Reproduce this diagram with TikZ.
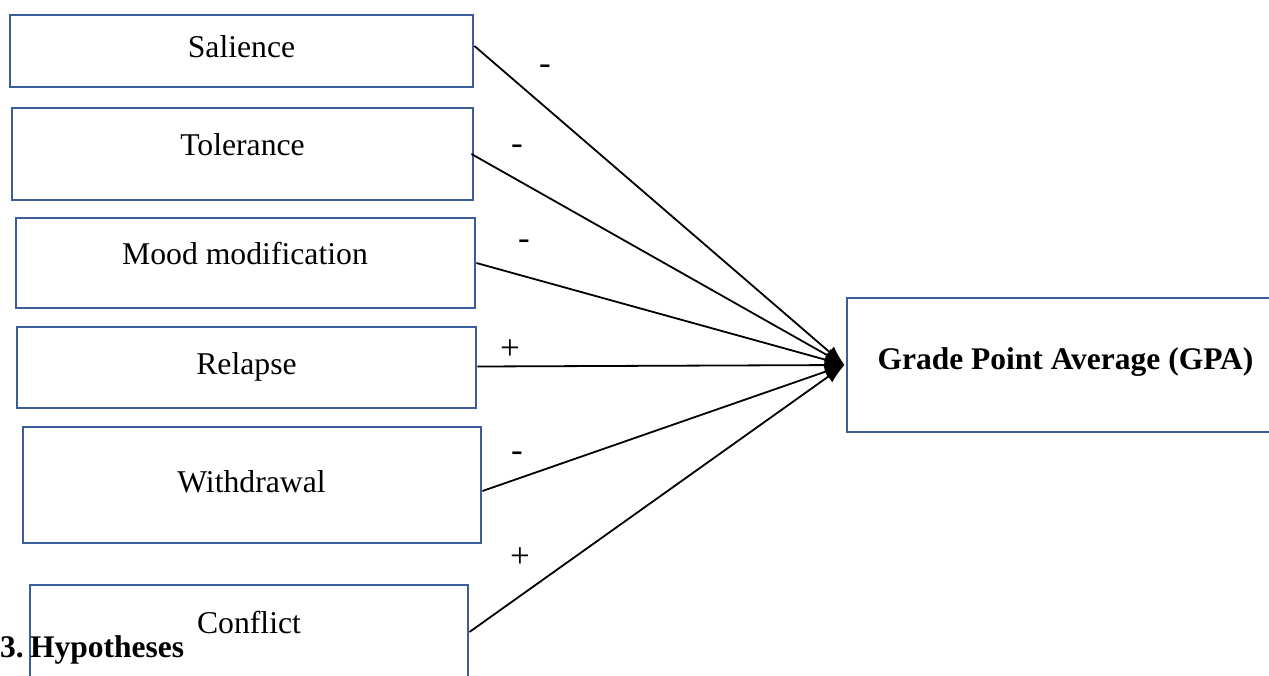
\documentclass[tikz,border=0pt]{standalone}
\usepackage{fontspec}
\setmainfont{Liberation Serif}
\usetikzlibrary{arrows.meta}
\definecolor{boxblue}{RGB}{59,93,155}
\tikzset{
  box/.style={draw=boxblue, line width=2.9pt, minimum width=#1, inner sep=0pt},
  txt/.style={anchor=base, inner sep=0pt, font=\fontsize{31.7}{38}\selectfont},
  btxt/.style={anchor=base, inner sep=0pt, font=\fontsize{31.5}{38}\selectfont\bfseries},
  sign/.style={anchor=base, inner sep=0pt, font=\fontsize{35}{40}\selectfont},
  link/.style={draw=black, line width=1.8pt, -{Latex[length=20pt,width=14pt]}}
}
\begin{document}
\begin{tikzpicture}[x=1pt,y=-1pt]
\clip (0,0) rectangle (1269,675);
\fill[white] (0,0) rectangle (1269,675);
% boxes
\node[box=463pt, minimum height=72pt] (sal) at (241.5,51) {};
\node[box=461pt, minimum height=92pt] (tol) at (242.5,154) {};
\node[box=459pt, minimum height=90pt] (mood) at (245.5,263) {};
\node[box=459pt, minimum height=81pt] (rel) at (246.5,367.5) {};
\node[box=458pt, minimum height=116pt] (wd) at (252,485) {};
\node[box=438pt, minimum height=120pt] (con) at (249,645) {};
\node[box=443pt, minimum height=134pt] (gpa) at (1068.5,365) {};
% texts
\node[txt] (tsal) at (241.5,57) {Salience};
\node[txt] (ttol) at (242.5,155) {Tolerance};
\node[txt] (tmood) at (245,264) {Mood modification};
\node[txt] (trel) at (246.5,374) {Relapse};
\node[txt] (twd) at (251.5,492) {Withdrawal};
\node[txt] (tcon) at (249,633) {Conflict};
\node[btxt] (tgpa) at (1065.5,369) {Grade Point Average (GPA)};
\node[btxt, anchor=base west] (hyp) at (0,657) {3.\hspace{0.2em}Hypotheses};
% signs
\node[sign] (s1) at (545,74) {-};
\node[sign] (s2) at (517,154) {-};
\node[sign] (s3) at (524,249) {-};
\node[sign] (s4) at (510,359) {+};
\node[sign] (s5) at (517,461) {-};
\node[sign] (s6) at (520,567) {+};
% connectors
\coordinate (tip) at ([xshift=-1pt]gpa.west);
\draw[link] ([yshift=5pt]sal.east) -- (tip);
\draw[link] ([xshift=-3pt]tol.east) -- (tip);
\draw[link] (mood.east) -- (tip);
\draw[link] ([yshift=1pt]rel.east) -- (tip);
\draw[link] ([yshift=-6pt]wd.east) -- (tip);
\draw[link] ([yshift=13pt]con.east) -- (tip);
\end{tikzpicture}
\end{document}
